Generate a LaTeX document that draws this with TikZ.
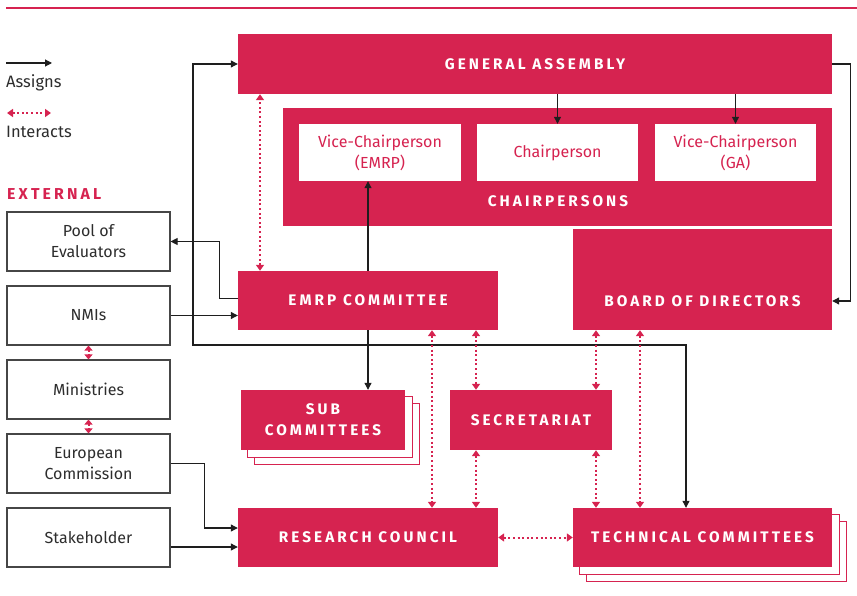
\documentclass[tikz,border=0pt]{standalone}
\usepackage{fontspec}
\setmainfont{Fira Sans}
\newfontfamily\capfont[LetterSpace=20]{Fira Sans}
\usetikzlibrary{arrows.meta,backgrounds}
\definecolor{emred}{RGB}{214,35,80}
\definecolor{lineblk}{RGB}{30,30,30}
\definecolor{txtgray}{RGB}{45,45,45}
\definecolor{boxgray}{RGB}{70,70,70}
\begin{document}
\begin{tikzpicture}[x=1pt,y=-1pt,
  redbox/.style={fill=emred, draw=none, inner sep=0pt, text=white, align=center,
    font=\capfont\bfseries\fontsize{15.3}{21}\selectfont},
  redlbl/.style={inner sep=0pt, text=white, font=\capfont\bfseries\fontsize{15.3}{21}\selectfont},
  whitebox/.style={fill=white, draw=none, inner sep=0pt, text=emred, align=center,
    font=\fontsize{16}{21}\selectfont},
  extbox/.style={draw=boxgray, line width=1.1pt, fill=white, inner sep=0pt, text=txtgray, align=center,
    minimum width=163pt, minimum height=59pt, font=\fontsize{16}{21}\selectfont},
  shadowbox/.style={draw=emred, line width=0.9pt, fill=white},
  assign/.style={draw=lineblk, line width=1.1pt, -{Triangle[length=7pt,width=7pt]}},
  assign2/.style={draw=lineblk, line width=1.1pt, {Triangle[length=7pt,width=7pt]}-{Triangle[length=7pt,width=7pt]}},
  interact/.style={draw=emred, line width=2pt, dash pattern=on 2pt off 2.6pt,
    {Triangle[length=6pt,width=8pt]}-{Triangle[length=6pt,width=8pt]}},
  interactshort/.style={draw=emred, line width=2pt, dash pattern=on 2pt off 2pt,
    {Triangle[length=5pt,width=8pt]}-{Triangle[length=5pt,width=8pt]}},
  legtext/.style={inner sep=0pt, anchor=west, text=txtgray, font=\fontsize{16.5}{18}\selectfont},
]
\useasboundingbox (0,0) rectangle (857,596);

% top rule
\coordinate (ruleL) at (6,8);
\coordinate (ruleR) at (857,8);
\draw[emred, line width=2.4pt] (ruleL) -- (ruleR);

% legend
\coordinate (la1) at (6,63);
\coordinate (la2) at (52,63);
\draw[assign] (la1) -- (la2);
\node[legtext] (assignslbl) at (6,83) {Assigns};
\coordinate (li1) at (7,113);
\coordinate (li2) at (51,113);
\draw[interact] (li1) -- (li2);
\node[legtext] (interactslbl) at (6,132) {Interacts};

\node[inner sep=0pt, anchor=west, text=emred, font=\capfont\bfseries\fontsize{15.8}{16}\selectfont] (external) at (7,194) {EXTERNAL};

% external boxes
\node[extbox] (pool) at (88.5,241.5) {Pool of\\Evaluators};
\node[extbox] (nmi) at (88.5,315.5) {NMIs};
\node[extbox] (min) at (88.5,389.5) {Ministries};
\node[extbox] (ec) at (88.5,463.5) {European\\Commission};
\node[extbox] (stake) at (88.5,537.5) {Stakeholder};

% main red boxes
\node[redbox, minimum width=594pt, minimum height=60pt] (ga) at (535,64) {GENERAL ASSEMBLY};
\node[redbox, minimum width=549pt, minimum height=118pt] (chair) at (557.5,167) {};
\node[redlbl] (chairlbl) at (558,201) {CHAIRPERSONS};
\node[whitebox, minimum width=162pt, minimum height=57pt] (vce) at (380,152.5) {Vice-Chairperson\\(EMRP)};
\node[whitebox, minimum width=161pt, minimum height=57pt] (chp) at (557.5,152.5) {Chairperson};
\node[whitebox, minimum width=161pt, minimum height=57pt] (vcg) at (735.5,152.5) {Vice-Chairperson\\(GA)};

\node[redbox, minimum width=259pt, minimum height=101pt] (bod) at (702.5,279.5) {};
\node[redlbl] (bodlbl) at (702.5,301) {BOARD OF DIRECTORS};

\node[redbox, minimum width=260pt, minimum height=59pt] (emrp) at (368,300.5) {EMRP COMMITTEE};
\node[redbox, minimum width=164pt, minimum height=60pt] (sub) at (323,420) {SUB\\COMMITTEES};
\node[redbox, minimum width=162pt, minimum height=60pt] (sec) at (531,420) {SECRETARIAT};
\node[redbox, minimum width=260pt, minimum height=59pt] (rc) at (368,537.5) {RESEARCH COUNCIL};
\node[redbox, minimum width=259pt, minimum height=59pt] (tc) at (702.5,537.5) {TECHNICAL COMMITTEES};

% stacked shadows
\begin{scope}[on background layer]
  \draw[shadowbox] ([xshift=14pt,yshift=-14pt]sub.south west) rectangle ([xshift=14pt,yshift=-14pt]sub.north east);
  \draw[shadowbox] ([xshift=7pt,yshift=-7pt]sub.south west) rectangle ([xshift=7pt,yshift=-7pt]sub.north east);
  \draw[shadowbox] ([xshift=14pt,yshift=-14pt]tc.south west) rectangle ([xshift=14pt,yshift=-14pt]tc.north east);
  \draw[shadowbox] ([xshift=7pt,yshift=-7pt]tc.south west) rectangle ([xshift=7pt,yshift=-7pt]tc.north east);
\end{scope}

% assigns connectors
\draw[assign] (ga.south -| chp.north) -- (chp.north);
\draw[assign] (ga.south -| vcg.north) -- (vcg.north);
\draw[assign] (emrp.north) -- (emrp.north |- vce.south);
\draw[assign] (emrp.south) -- (emrp.south |- sub.north);
\draw[assign] (nmi.east) -- (nmi.east -| emrp.west);
\draw[assign] ([yshift=2pt]emrp.west) -- ++(-18,0) |- (pool.east);
\draw[assign] (ga.east) -- ++(18,0) |- (bod.east |- bodlbl);
\coordinate (loopcorner) at (193,345);
\draw[assign2] (ga.west) -| (loopcorner) -| ([xshift=-16.5pt]tc.north);
\draw[assign] (ec.east) -- ++(34,0) |- ([yshift=9.5pt]rc.west);
\draw[assign] ([yshift=-9.5pt]stake.east) -- ([yshift=-9.5pt]rc.west);

% interacts connectors
\draw[interact] ([xshift=-108pt]emrp.north) -- ([xshift=-108pt]emrp.north |- ga.south);
\draw[interact] ([xshift=64pt]emrp.south) -- ([xshift=64pt]emrp.south |- rc.north);
\draw[interact] ([xshift=108pt]emrp.south) -- ([xshift=108pt]emrp.south |- sec.north);
\draw[interact] ([xshift=-106.5pt]bod.south) -- ([xshift=-106.5pt]bod.south |- sec.north);
\draw[interact] ([xshift=-62.5pt]bod.south) -- ([xshift=-62.5pt]bod.south |- tc.north);
\draw[interact] ([xshift=-55pt]sec.south) -- ([xshift=-55pt]sec.south |- rc.north);
\draw[interact] ([xshift=65pt]sec.south) -- ([xshift=65pt]sec.south |- tc.north);
\draw[interact] (rc.east) -- (tc.west);
\draw[interactshort] (nmi.south) -- (min.north);
\draw[interactshort] (min.south) -- (ec.north);
\end{tikzpicture}
\end{document}
